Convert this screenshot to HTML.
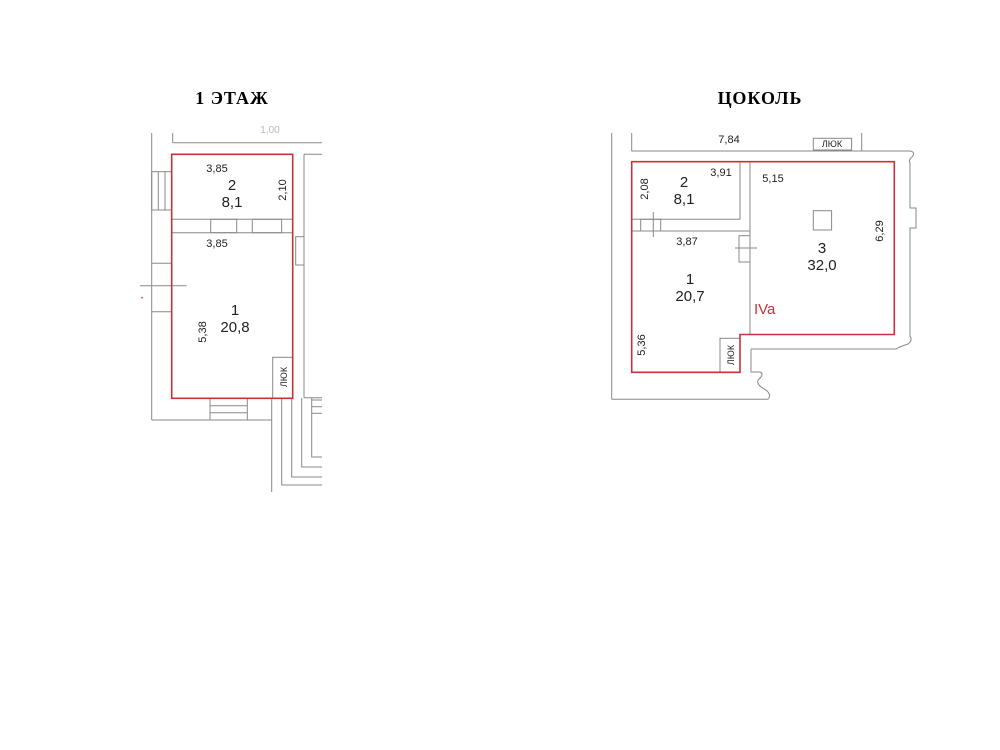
<!DOCTYPE html>
<html><head><meta charset="utf-8"><style>
html,body{margin:0;padding:0;background:#fff;}
svg{display:block;}
</style></head><body>
<svg width="1000" height="750" viewBox="0 0 1000 750" xmlns="http://www.w3.org/2000/svg" font-family="Liberation Sans, sans-serif">
<rect width="1000" height="750" fill="#fff"/>
<text x="232" y="104" font-family="Liberation Serif, serif" font-weight="bold" font-size="18" letter-spacing="1" text-anchor="middle">1 ЭТАЖ</text>
<text x="760" y="104" font-family="Liberation Serif, serif" font-weight="bold" font-size="18" letter-spacing="1" text-anchor="middle">ЦОКОЛЬ</text>

<!-- LEFT PLAN -->
<g stroke="#888" stroke-width="1" fill="none">
  <line x1="172.7" y1="133" x2="172.7" y2="142.7"/>
  <line x1="172.7" y1="142.7" x2="322" y2="142.7"/>
  <line x1="151.7" y1="133" x2="151.7" y2="420"/>
  <line x1="151.7" y1="420" x2="272" y2="420"/>
  <line x1="172" y1="219.3" x2="292" y2="219.3"/>
  <line x1="172" y1="232.7" x2="292" y2="232.7"/>
  <rect x="210.7" y="219.3" width="26" height="13.4"/>
  <rect x="252.3" y="219.3" width="29.3" height="13.4"/>
  <line x1="304" y1="154.3" x2="322" y2="154.3"/>
  <line x1="304" y1="154.3" x2="304" y2="397.7"/>
  <line x1="304" y1="397.7" x2="322" y2="397.7"/>
  <rect x="295.7" y="236.7" width="8.3" height="28.3"/>
  <rect x="151.7" y="171.7" width="20" height="38.3"/>
  <line x1="158.3" y1="171.7" x2="158.3" y2="210"/>
  <line x1="165" y1="171.7" x2="165" y2="210"/>
  <line x1="151.7" y1="263.3" x2="172" y2="263.3"/>
  <line x1="151.7" y1="311.7" x2="172" y2="311.7"/>
  <line x1="140" y1="285.7" x2="186.7" y2="285.7"/>
  <rect x="210" y="398.3" width="37.3" height="21.7"/>
  <line x1="210" y1="405.7" x2="247.3" y2="405.7"/>
  <line x1="210" y1="412.7" x2="247.3" y2="412.7"/>
  <rect x="272.7" y="357.3" width="20" height="41"/>
  <line x1="271.7" y1="398" x2="271.7" y2="492"/>
  <polyline points="281.7,398 281.7,485 322,485"/>
  <polyline points="291.7,398 291.7,477 322,477"/>
  <polyline points="301.7,398 301.7,467 322,467"/>
  <polyline points="311.7,398 311.7,457 322,457"/>
  <line x1="311.7" y1="400" x2="322" y2="400"/>
  <line x1="311.7" y1="406.7" x2="322" y2="406.7"/>
  <line x1="311.7" y1="413.3" x2="322" y2="413.3"/>
</g>
<text x="270" y="133" font-size="10" fill="#bbb" text-anchor="middle">1,00</text>
<rect x="171.7" y="154.3" width="121" height="244" fill="none" stroke="#c9323a" stroke-width="1.6"/>
<g font-size="11" fill="#222">
  <text x="217" y="172" text-anchor="middle">3,85</text>
  <text x="217" y="247" text-anchor="middle">3,85</text>
  <text x="0" y="0" transform="translate(286,190) rotate(-90)" text-anchor="middle">2,10</text>
  <text x="0" y="0" transform="translate(206,332) rotate(-90)" text-anchor="middle">5,38</text>
  <text x="0" y="0" transform="translate(287,377) rotate(-90)" text-anchor="middle" font-size="9">ЛЮК</text>
</g>
<g font-size="15" fill="#222" text-anchor="middle">
  <text x="232" y="190">2</text>
  <text x="232" y="207">8,1</text>
  <text x="235" y="315">1</text>
  <text x="235" y="332">20,8</text>
</g>
<text x="141" y="300" font-size="6" fill="#c9323a">•</text>

<!-- RIGHT PLAN -->
<g stroke="#888" stroke-width="1" fill="none">
  <line x1="631.7" y1="133" x2="631.7" y2="151"/>
  <line x1="631.7" y1="151" x2="861.7" y2="151"/>
  <line x1="861.7" y1="133" x2="861.7" y2="151"/>
  <rect x="813.3" y="138.3" width="38.3" height="11.7"/>
  <line x1="611.7" y1="133" x2="611.7" y2="399.3"/>
  <line x1="611.7" y1="399.3" x2="768" y2="399.3"/>
  <path d="M751,349 V372 H760 Q765,374 758,380 Q756,385 766,390 Q772,395 768,399.3"/>
  <line x1="740" y1="161.7" x2="740" y2="219.3"/>
  <line x1="631.7" y1="219.3" x2="740" y2="219.3"/>
  <line x1="631.7" y1="231" x2="750" y2="231"/>
  <line x1="750" y1="161.7" x2="750" y2="334.3"/>
  <rect x="640.7" y="219.3" width="20" height="11.7"/>
  <line x1="653.3" y1="212" x2="653.3" y2="237"/>
  <rect x="739" y="235.7" width="11" height="26.3"/>
  <line x1="735" y1="248" x2="757" y2="248"/>
  <path d="M861.7,151 H910 Q916,152 912,157 Q908,160 910,163 V208 H916 V228 H910 V336 Q913,340 908,344 Q899,347 896,349 H751"/>
  <rect x="720" y="338.3" width="20" height="34"/>
  <rect x="813.3" y="210.7" width="18.3" height="19.3"/>
</g>
<path d="M631.7,161.7 H894.3 V334.5 H740 V372.3 H631.7 Z" fill="none" stroke="#c9323a" stroke-width="1.6"/>
<g font-size="11" fill="#222">
  <text x="729" y="143" text-anchor="middle">7,84</text>
  <text x="721" y="176" text-anchor="middle">3,91</text>
  <text x="773" y="182" text-anchor="middle">5,15</text>
  <text x="687" y="245" text-anchor="middle">3,87</text>
  <text x="0" y="0" transform="translate(648,189) rotate(-90)" text-anchor="middle">2,08</text>
  <text x="0" y="0" transform="translate(883,231) rotate(-90)" text-anchor="middle">6,29</text>
  <text x="0" y="0" transform="translate(645,345) rotate(-90)" text-anchor="middle">5,36</text>
  <text x="0" y="0" transform="translate(734,355) rotate(-90)" text-anchor="middle" font-size="9">ЛЮК</text>
  <text x="832" y="147" text-anchor="middle" font-size="9">ЛЮК</text>
</g>
<g font-size="15" fill="#222" text-anchor="middle">
  <text x="684" y="187">2</text>
  <text x="684" y="204">8,1</text>
  <text x="690" y="284">1</text>
  <text x="690" y="301">20,7</text>
  <text x="822" y="253">3</text>
  <text x="822" y="270">32,0</text>
</g>
<text x="754" y="314" font-size="15" fill="#c9323a">IVa</text>
</svg>
</body></html>
